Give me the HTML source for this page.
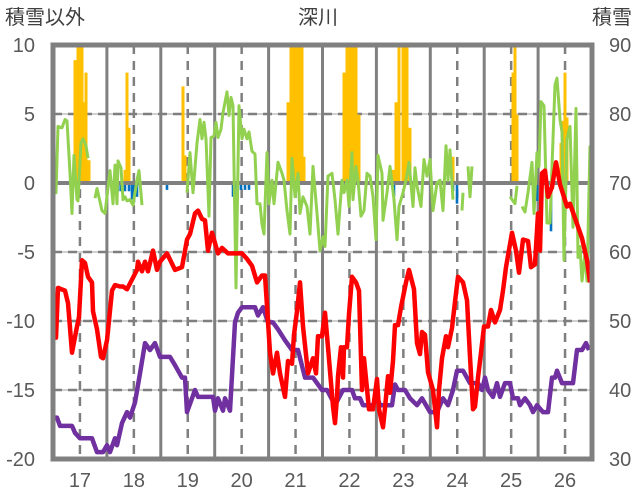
<!DOCTYPE html>
<html><head><meta charset="utf-8"><style>
body{margin:0;background:#fff}
svg{display:block;font-family:"Liberation Sans","Noto Sans CJK JP",sans-serif}
</style></head><body>
<svg id="chart" width="636" height="501"></svg>
<script>
const yearLabels=[17,18,19,20,21,22,23,24,25,26];
const leftTicks=[10,5,0,-5,-10,-15,-20];
const rightTicks=[90,80,70,60,50,40,30];
const redDay=[1,3,5,12,15,19,24,26,29,32,35,39,40,44,48,50,54,59,62,67,70,74,79,84,85,89,92,95,100,104,107,114,122,129,134,137,142,145,149,152,155,159,165,169,175,182,189,194,199,204,209,212,214,217,220,224,227,232,235,239,241,244,247,250,255,260,263,265,269,272,275,280,282,284,285,288,290,291,294,296,299,303,306,309,311,316,320,324,326,330,332,335,337,340,342,345,348,353,356,361,364,367,369,372,375,380,384,386,389,393,395,399,402,405,410,414,417,420,422,425,428,431,435,438,442,447,450,453,459,463,466,470,475,478,482,485,487,489,492,495,499,503,507,514,517,529,534,537];
const redVal=[-9.4,-11.2,-7.6,-7.8,-8.7,-12.3,-10.4,-9.7,-5.6,-5.8,-6.8,-7.2,-9.3,-10.6,-12.6,-12.7,-11.4,-7.8,-7.4,-7.5,-7.5,-7.7,-7.0,-6.3,-5.7,-6.4,-5.7,-6.4,-4.9,-6.3,-5.7,-5.1,-6.3,-6.1,-4.1,-3.7,-2.2,-2.0,-2.6,-2.7,-4.9,-3.6,-5.1,-4.7,-5.1,-5.1,-5.1,-5.5,-6.0,-7.2,-6.7,-6.7,-8.9,-12.3,-13.8,-12.3,-13.8,-15.5,-12.9,-13.1,-11.0,-9.3,-7.2,-10.4,-13.8,-12.7,-13.8,-11.1,-11.1,-9.4,-11.9,-16.2,-17.4,-15.5,-14.0,-11.9,-14.1,-11.9,-11.9,-9.5,-6.8,-7.2,-7.8,-15.0,-12.7,-16.4,-16.4,-14.2,-16.4,-17.7,-16.3,-14.0,-15.2,-12.9,-10.3,-10.3,-9.0,-7.2,-6.3,-7.7,-11.6,-12.4,-10.8,-11.0,-13.7,-15.0,-17.7,-15.0,-12.7,-11.1,-11.9,-10.5,-8.6,-6.8,-7.2,-8.5,-12.6,-16.4,-16.2,-14.1,-12.3,-10.4,-10.4,-9.2,-10.1,-9.2,-7.8,-6.1,-3.6,-4.9,-6.5,-4.1,-4.2,-6.1,-5.9,-2.2,-4.9,0.7,0.9,-1.0,-0.3,1.5,-0.1,-1.7,-1.5,-4.0,-5.6,-7.2];
const purDay=[1,4,7,19,22,27,39,44,50,54,57,62,64,69,74,77,82,87,92,97,102,107,117,122,129,132,134,142,145,160,162,165,170,172,177,182,185,189,202,205,210,215,220,225,232,239,245,252,260,269,274,282,290,299,302,307,310,320,324,327,339,342,345,352,357,364,369,377,384,390,395,400,404,410,417,425,429,432,435,440,444,447,452,457,460,465,467,472,477,480,484,490,495,499,502,504,509,520,524,529,533,536];
const purVal=[-17.0,-17.0,-17.6,-17.6,-18.1,-18.5,-18.5,-19.5,-19.5,-19.0,-19.5,-18.5,-19.0,-17.4,-16.6,-17.0,-15.9,-13.8,-11.6,-12.1,-11.6,-12.6,-12.6,-13.2,-14.1,-14.1,-16.6,-15.0,-15.5,-15.5,-16.5,-15.6,-16.5,-15.6,-16.5,-10.1,-9.4,-9.0,-9.0,-9.6,-9.0,-10.1,-10.1,-10.6,-11.4,-12.1,-12.1,-14.1,-14.1,-15.0,-15.0,-16.1,-15.0,-15.0,-15.6,-15.6,-16.1,-16.1,-15.5,-16.1,-16.1,-14.6,-15.0,-15.0,-15.6,-16.1,-15.6,-16.6,-16.6,-15.6,-16.1,-15.0,-13.6,-13.6,-14.5,-14.5,-15.0,-14.1,-15.0,-15.5,-14.5,-15.5,-14.5,-14.5,-15.6,-15.6,-16.1,-15.6,-16.1,-16.6,-16.1,-16.6,-16.6,-14.1,-14.1,-13.6,-14.5,-14.5,-12.1,-12.1,-11.6,-12.1];
const grnDay=[0,3,5,9,12,14,17,19,21,24,25,28,30,33,35,null,42,44,49,52,57,60,62,64,65,68,70,72,74,77,80,84,86,89,null,134,137,140,144,147,149,151,153,156,158,161,163,165,168,170,174,176,178,180,183,186,189,191,194,196,199,202,204,207,209,211,214,216,219,221,225,229,231,234,237,239,242,245,247,250,254,257,260,264,267,270,272,275,279,282,285,289,291,294,296,299,300,303,305,308,311,314,317,320,323,325,329,330,334,337,341,344,346,350,353,356,360,362,364,368,371,374,377,380,384,387,390,393,395,397,400,null,409,410,null,415,417,419,null,457,462,464,null,469,472,475,479,481,484,486,488,491,494,497,499,502,504,507,509,511,514,517,520,523,525,527,529,532,534,537];
const grnVal=[2.9,-0.7,4.1,4.0,4.6,4.5,0.7,-2.2,2.0,-1.2,-1.3,2.9,3.2,2.7,1.8,null,-1.1,-0.4,-2.0,-2.2,0.9,-1.5,1.3,-1.5,1.6,1.1,-1.2,-1.0,-1.3,-1.2,-1.6,0.2,0.9,-1.6,null,-0.7,2.2,-0.7,2.9,4.6,3.2,4.4,3.2,-2.4,3.3,3.4,4.4,3.3,3.9,5.1,6.6,4.9,6.2,5.6,-7.6,5.6,3.2,3.9,3.2,3.7,2.3,2.1,-1.5,-1.5,-3.0,-3.7,2.2,-1.5,0.2,-1.5,1.5,0.7,0.2,-2.0,-3.7,1.8,-1.0,0.7,-2.2,-1.0,-1.7,-3.7,1.2,-2.2,-4.9,-3.9,-4.6,0.5,0.7,-1.2,-3.7,0.2,-0.7,0.2,-1.7,2.2,-1.2,1.2,0.2,-2.4,-2.0,0.7,0.5,-1.0,-4.1,2.0,0.7,-2.7,-0.7,1.2,-1.2,-4.1,-1.7,-0.7,0.2,1.5,-1.7,1.1,-0.2,-1.7,1.7,0.5,1.7,-2.0,0.0,0.2,-2.0,2.7,0.2,2.4,-1.2,null,-2.0,-0.7,null,1.2,-1.0,1.2,null,-1.0,-1.5,-0.2,null,-1.7,-2.1,-0.7,1.5,-2.2,2.2,1.2,5.9,5.6,-2.9,-2.9,1.2,7.1,7.6,4.6,3.7,-5.6,3.2,4.1,-3.2,5.4,-5.4,-4.6,-7.1,-5.1,-7.1,2.7];
const snowDay=[22,25,27,29,31,33,36,72,74,76,130,132,235,238,240,243,246,249,251,291,294,297,300,303,306,340,343,346,350,352,354,357,400,460,462,464,508,510,512,514];
const snowVal=[87.8,95,95,95,81.7,86,73.3,71.9,86,78,84,74,81.7,95,95,95,95,95,73.8,86,95,95,95,95,79.9,71.9,81.7,95,95,95,95,78,73.8,86,95,79.9,75.8,79,86,79.5];
const blueDay=[65,68,72,76,79,81,84,114,180,182,188,192,196,341,400,404,484,498];
const blueVal=[-0.6,-0.6,-0.6,-0.6,-1.2,-1.4,-1.0,-0.5,-1.0,-1.0,-0.5,-0.5,-0.5,-1.0,-0.6,-1.5,-1.3,-3.5];

const L=53,R=592,T=45,B=459,NS="http://www.w3.org/2000/svg";
const svg=document.getElementById('chart');
const xS=d=>L+d*(R-L)/539;
const yL=v=>T+(10-v)*(B-T)/30;
const yR=v=>T+(90-v)*(B-T)/60;
const yearX=y=>L+(y-16.5)*(R-L)/10;
function el(tag,attrs,parent){const e=document.createElementNS(NS,tag);for(const k in attrs)e.setAttribute(k,attrs[k]);(parent||svg).appendChild(e);return e;}
const clip=el('clipPath',{id:'pc'});el('rect',{x:L,y:T,width:R-L,height:B-T},clip);
[5,-5,-10,-15].forEach(v=>{const g=el('line',{x1:L,x2:R,y1:yL(v),y2:yL(v),stroke:'#d0d0d0','stroke-width':2});


const g2=el('line',{x1:L,x2:R,y1:yL(v),y2:yL(v),stroke:'#7f7f7f','stroke-width':2.5,'stroke-dasharray':'9,6'});

});
yearLabels.forEach(y=>{const d=el('line',{x1:yearX(y),x2:yearX(y),y1:T,y2:B,stroke:'#7f7f7f','stroke-width':2.5,'stroke-dasharray':'9,7'});


if(y<26){const s=el('line',{x1:yearX(y+0.5),x2:yearX(y+0.5),y1:T,y2:B,stroke:'#808080','stroke-width':3});

}
const t=el('text',{x:yearX(y),y:487,'text-anchor':'middle','font-size':20,fill:'#595959'});t.textContent=y;

});
const bg=el('g',{'clip-path':'url(#pc)'});
snowDay.forEach((d,i)=>{const r=el('rect',{x:xS(d)-1.5,y:yR(snowVal[i]),width:3,height:yR(70)-yR(snowVal[i]),fill:'#ffc000'},bg);

});
blueDay.forEach((d,i)=>{const r=el('rect',{x:xS(d)-1.3,y:yL(0),width:2.6,height:yL(blueVal[i])-yL(0),fill:'#0070c0'},bg);

});
const z=el('line',{x1:L,x2:R,y1:yL(0),y2:yL(0),stroke:'#808080','stroke-width':4});


function line(days,vals,color,w,name){let p='',pen=false;days.forEach((d,i)=>{if(d===null||vals[i]===null){pen=false;return;}p+=(pen?'L':'M')+xS(d).toFixed(1)+','+yL(vals[i]).toFixed(1);pen=true;});
const e=el('path',{d:p,fill:'none',stroke:color,'stroke-width':w,'stroke-linejoin':'round','clip-path':'url(#pc)'});

}
line(grnDay,grnVal,'#92d050',3,'green-series-line');
line(purDay,purVal,'#7030a0',4.5,'purple-series-line');
line(redDay,redVal,'#ff0000',4.5,'red-series-line');
const fr=el('rect',{x:L,y:T,width:R-L,height:B-T,fill:'none',stroke:'#808080','stroke-width':5});


leftTicks.forEach(v=>{const t=el('text',{x:35,y:yL(v)+7,'text-anchor':'end','font-size':20,fill:'#595959'});t.textContent=v;

});
rightTicks.forEach(v=>{const t=el('text',{x:609,y:yR(v)+7,'text-anchor':'start','font-size':20,fill:'#595959'});t.textContent=v;

});
[['積雪以外',5,'start','left-axis-title'],['深川',318,'middle','chart-title'],['積雪',632,'end','right-axis-title']].forEach(a=>{const t=el('text',{x:a[1],y:24,'text-anchor':a[2],'font-size':20,fill:'#404040'});t.textContent=a[0];

});
</script>
</body></html>
